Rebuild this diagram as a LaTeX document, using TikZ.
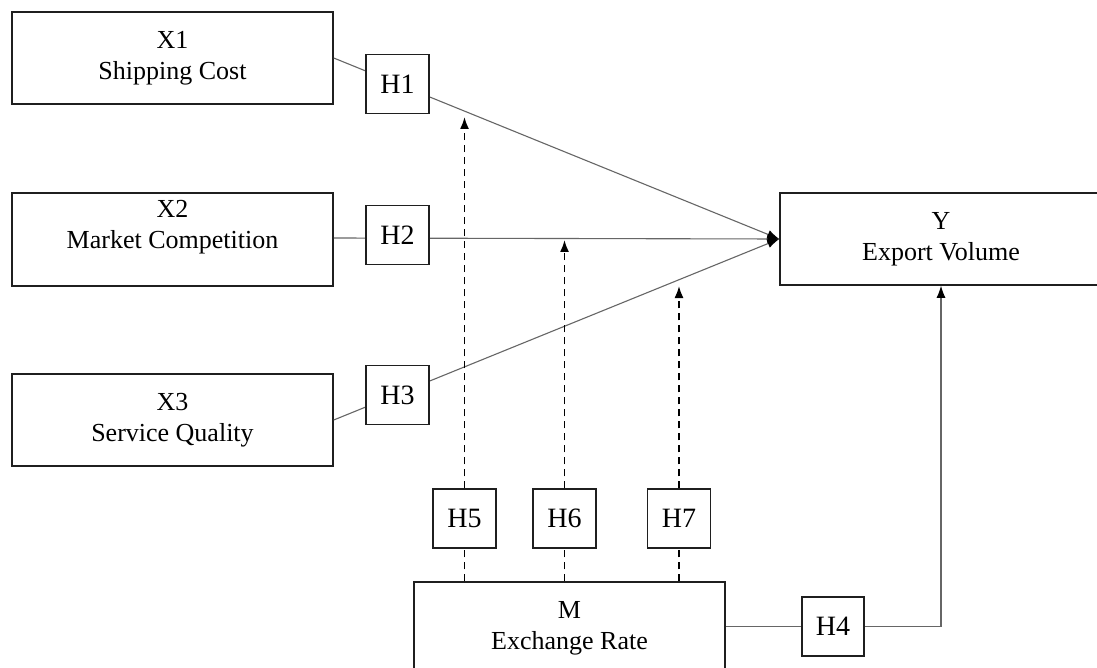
\documentclass[tikz,border=0pt]{standalone}
\usepackage{fontspec}
\setmainfont{Liberation Serif}
\usetikzlibrary{arrows.meta,positioning}
\tikzset{
  box/.style={draw=black!88, line width=1.5pt, fill=white, inner sep=0pt, align=center,
    font=\fontsize{26}{31}\selectfont},
  bigbox/.style={box, minimum width=321pt, minimum height=92pt},
  hbox/.style={box, minimum width=63pt, minimum height=59pt, font=\fontsize{28}{31}\selectfont},
  txt/.style={align=center, inner sep=0pt, font=\fontsize{26}{31}\selectfont},
  conn/.style={draw=black!60, line width=1.1pt},
  mod/.style={draw=black, line width=1.7pt, dash pattern=on 7pt off 5pt},
  arr/.style={-{Latex[length=12pt,width=9pt,fill=black,color=black]}},
}
\begin{document}
\begin{tikzpicture}[x=1pt,y=-1pt]
\useasboundingbox (0,0) rectangle (1097,668);
\clip (0,0) rectangle (1097,668);
\fill[white] (0,0) rectangle (1097,668);

% main boxes
\node[bigbox] (X1) at (172.5,58) {X1\\Shipping Cost};
\node[bigbox, minimum height=93pt] (X2) at (172.5,239.5) {};
\node[txt] (X2t) at (172.5,227) {X2\\Market Competition};
\node[bigbox] (X3) at (172.5,420) {X3\\Service Quality};
\node[bigbox, minimum width=322pt] (Y) at (941,239) {Y\\Export Volume};
\node[bigbox, minimum width=311pt] (M) at (569.5,628) {M\\Exchange Rate};

% direct paths
\draw[conn, arr] (X1.east) -- (Y.west);
\draw[conn, arr] (X2.east |- 0,238) coordinate (x2e) -- (Y.west);
\draw[conn, arr] (X3.east) -- (Y.west);

% hypothesis boxes on direct paths
\node[hbox] (H1) at (397.5,84) {H1};
\node[hbox] (H2) at (397.5,235) {H2};
\node[hbox] (H3) at (397.5,395) {H3};

% moderating paths
\node[hbox] (H5) at (464.5,518.5) {H5};
\node[hbox] (H6) at (564.5,518.5) {H6};
\node[hbox] (H7) at (679,518.5) {H7};
\coordinate (t5) at (464.5,117);
\coordinate (t6) at (564.5,240);
\coordinate (t7) at (679,286);
\draw[mod] (H5 |- M.north) -- (H5.south);
\draw[mod] (H6 |- M.north) -- (H6.south);
\draw[mod] (H7 |- M.north) -- (H7.south);
\draw[mod, arr] (H5.north) -- (t5);
\draw[mod, arr] (H6.north) -- (t6);
\draw[mod, arr] (H7.north) -- (t7);

% M -> Y
\node[hbox, minimum width=62pt] (H4) at (833,626.5) {H4};
\coordinate (bend) at (941,626.5);
\draw[conn] (M.east |- H4) -- (H4.west);
\draw[conn, arr] (H4.east) -- (bend) -- (Y.south);
\end{tikzpicture}
\end{document}
